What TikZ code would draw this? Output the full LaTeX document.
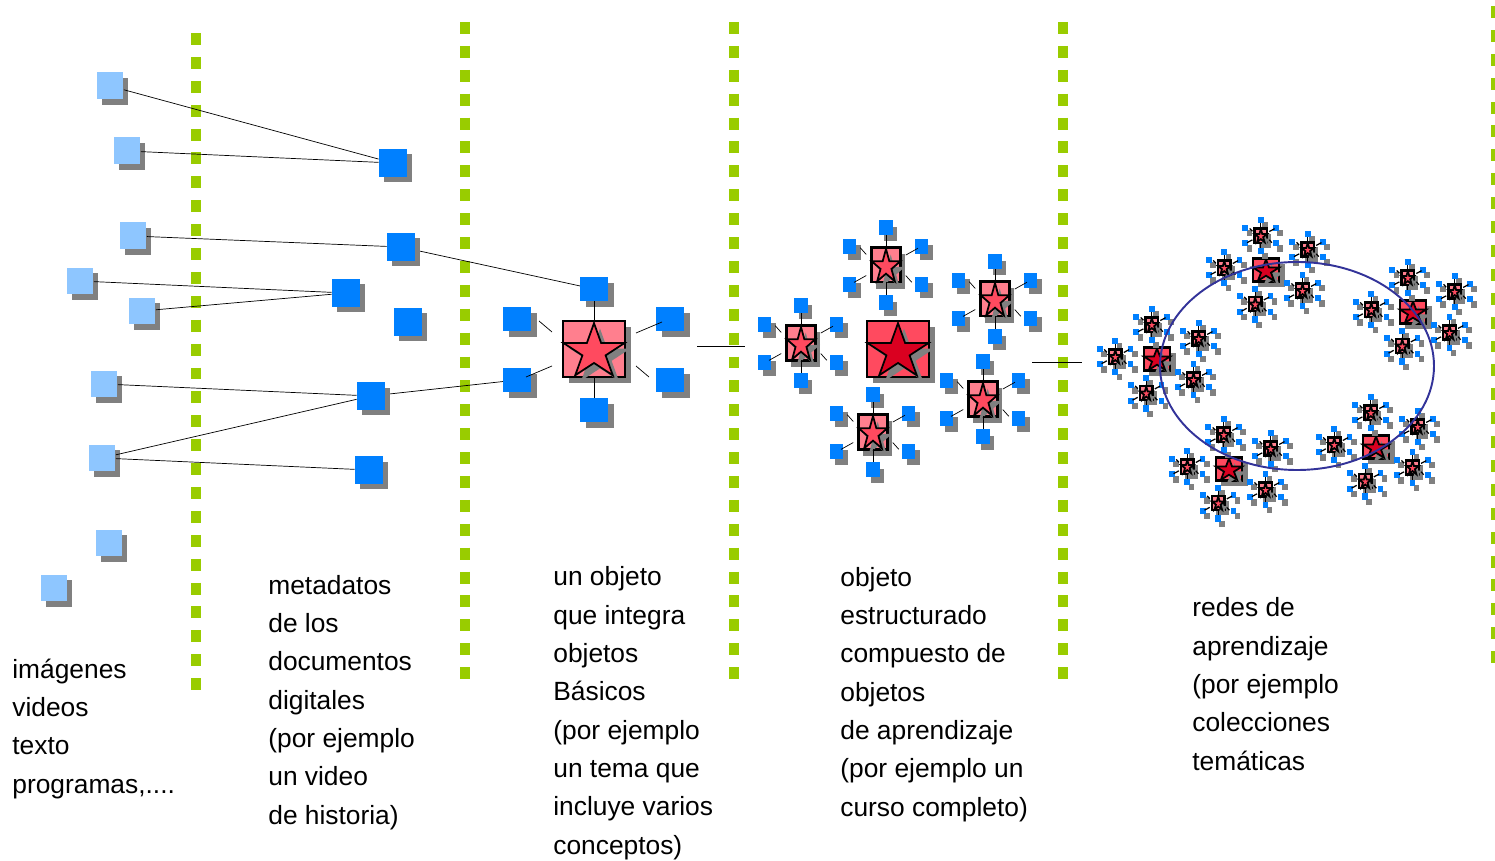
\documentclass[tikz,border=0pt]{standalone}
\usepackage{fontspec}
\setmainfont{Liberation Sans}
\usetikzlibrary{shadows}
\pgfdeclarelayer{background}
\pgfsetlayers{background,main}
\definecolor{lightb}{HTML}{8EC6FF}
\definecolor{satblue}{HTML}{0080FF}
\definecolor{shdgray}{HTML}{808080}
\definecolor{pinkfill}{HTML}{FF7F8E}
\definecolor{redfill}{HTML}{FF4A5F}
\definecolor{darkred}{HTML}{DA0020}
\definecolor{lime}{HTML}{99CC00}
\definecolor{ringblue}{HTML}{333399}
\newcommand{\pstar}[1]{\filldraw[shift={(0,3)},yscale=.9,#1] (-90:32) -- (-54:12.2) -- (-18:32) -- (18:12.2) -- (54:32) -- (90:12.2) -- (126:32) -- (162:12.2) -- (198:32) -- (234:12.2) -- cycle;}

\begin{document}
\begin{tikzpicture}
	[	x=.02cm,y=-.02cm,line width=1.1pt,
	doc/.style={rectangle,fill=lightb,inner sep=0,minimum size=.54cm,drop shadow={shadow xshift=.1cm,shadow yshift=-.11cm,fill=shdgray,opacity=1}},
	meta/.style={doc,fill=satblue,minimum size=.56cm},
	divider/.style={draw=lime,line width=6.2pt,dash pattern=on 6.8pt off 6.8pt},
	lbl/.style={anchor=base west,align=left,inner sep=0,font=\fontsize{15}{21.8}\selectfont},
	shd/.style={fill=shdgray,draw=none},
	sat/.style={fill=satblue},
	pinkbox/.style={fill=pinkfill,draw=black,line width=1.3pt},
	redbox/.style={fill=redfill,draw=black,line width=1.3pt},
	pinkstar/.style={fill=redfill,draw=black,line width=1pt},
	darkstar/.style={fill=darkred,draw=black,line width=1pt},
	ring/.style={draw=ringblue,line width=1.1pt},
	shoff/.store in=\shoffval,shoff=6,
	subshoff/.store in=\subshoffval,subshoff=10,
	pics/unit/.style={code={
		\foreach \x/\y in {0/-60,0/61,-77/-30,76/-30,-77/31,76/31}{
			\fill[shd,shift={(\x+\shoffval,\y+\shoffval)}] (-14,-12) rectangle (14,12);
			\fill[sat,shift={(\x,\y)}] (-14,-12) rectangle (14,12);
		}
		\fill[shd] (-31+\shoffval,-28+\shoffval) rectangle (31+\shoffval,28+\shoffval);
		\filldraw[pinkbox] (-31,-28) rectangle (31,28);
		\pstar{shd,shift={(\shoffval,\shoffval)}}
		\pstar{pinkstar}
		\draw (0,-48) -- (0,-28) (0,28) -- (0,49);
		\draw (-55,-28) -- (-42,-17) (42,-16) -- (68,-27);
		\draw (-68,28) -- (-42,17) (42,17) -- (55,28);
		\coordinate (-t) at (0,-60);
		\coordinate (-ll) at (-77,31);
	}},
	pics/struct/.style={code={
		\fill[shd] (-31+\shoffval,-28+\shoffval) rectangle (31+\shoffval,28+\shoffval);
		\filldraw[redbox] (-31,-28) rectangle (31,28);
		\pstar{shd,shift={(\shoffval,\shoffval)}}
		\pstar{darkstar}
		\foreach \x/\y in {-97/-6,-12/-84,97/-50,85/50,-25/83}
			\pic[transform shape,xscale=.47,yscale=.62,shoff=\subshoffval] at (\x,\y) {unit};
	}}
	]
	\useasboundingbox (0,0) rectangle (1495,861);
	\begin{pgfonlayer}{background}
		\draw[divider] (196,33) -- (196,693);
		\draw[divider] (465,22) -- (465,682);
		\draw[divider] (734,22) -- (734,682);
		\draw[divider] (1063,22) -- (1063,682);
		\draw[divider] (1496,6) -- (1496,666);
	\end{pgfonlayer}

	\node[doc] (a1) at (110,86){};
	\node[doc] (a2) at (127,151){};
	\node[doc] (a3) at (133,236){};
	\node[doc] (a4) at (80,281){};
	\node[doc] (a5) at (142,311){};
	\node[doc] (a6) at (104,384){};
	\node[doc] (a7) at (102,458){};
	\node[doc] (a8) at (109,543){};
	\node[doc] (a9) at (54,588){};

	\node[meta] (m1) at (393,163){};
	\node[meta] (m2) at (401,247){};
	\node[meta] (m3) at (346,293){};
	\node[meta] (m4) at (408,322){};
	\node[meta] (m5) at (371,396){};
	\node[meta] (m6) at (369,470){};

	\draw (a1) -- (m1);
	\draw (a2) -- (m1);
	\draw (a3) -- (m2);
	\draw (a4) -- (m3);
	\draw (a5) -- (m3);
	\draw (a6) -- (m5);
	\draw (a7) -- (m5);
	\draw (a7) -- (m6);

	\pic (obj) at (594,349) {unit};
	\begin{pgfonlayer}{background}
		\draw (m2) -- (obj-t);
		\draw (m5) -- (obj-ll);
	\end{pgfonlayer}

	\coordinate (s1) at (697,346);
	\coordinate (s2) at (745,346);
	\draw (s1) -- (s2);

	\pic (course) at (898,349) {struct};

	\coordinate (s3) at (1032,362);
	\coordinate (s4) at (1082,362);
	\draw (s3) -- (s4);

	\foreach \cx/\cy in {1266/270,1413/312,1157/359,1229/469,1376/447}
		\pic[xscale=.43,yscale=.41,shoff=13,subshoff=20,line width=.7pt] at (\cx,\cy) {struct};
	\draw[ring] (1297,366) ellipse [x radius=137,y radius=104];

	\node[lbl] (t1) at (12,793){imágenes\\videos\\texto\\programas,....};
	\node[lbl] (t2) at (268,824){metadatos\\de los\\documentos\\digitales\\(por ejemplo\\un video\\de historia)};
	\node[lbl] (t3) at (553,854){un objeto\\que integra\\objetos\\Básicos\\(por ejemplo\\un tema que\\incluye varios\\conceptos)};
	\node[lbl] (t4) at (840,816){objeto\\estructurado\\compuesto de\\objetos\\de aprendizaje\\(por ejemplo un\\curso completo)};
	\node[lbl] (t5) at (1192,770){redes de\\aprendizaje\\(por ejemplo\\colecciones\\temáticas};
\end{tikzpicture}
\end{document}
